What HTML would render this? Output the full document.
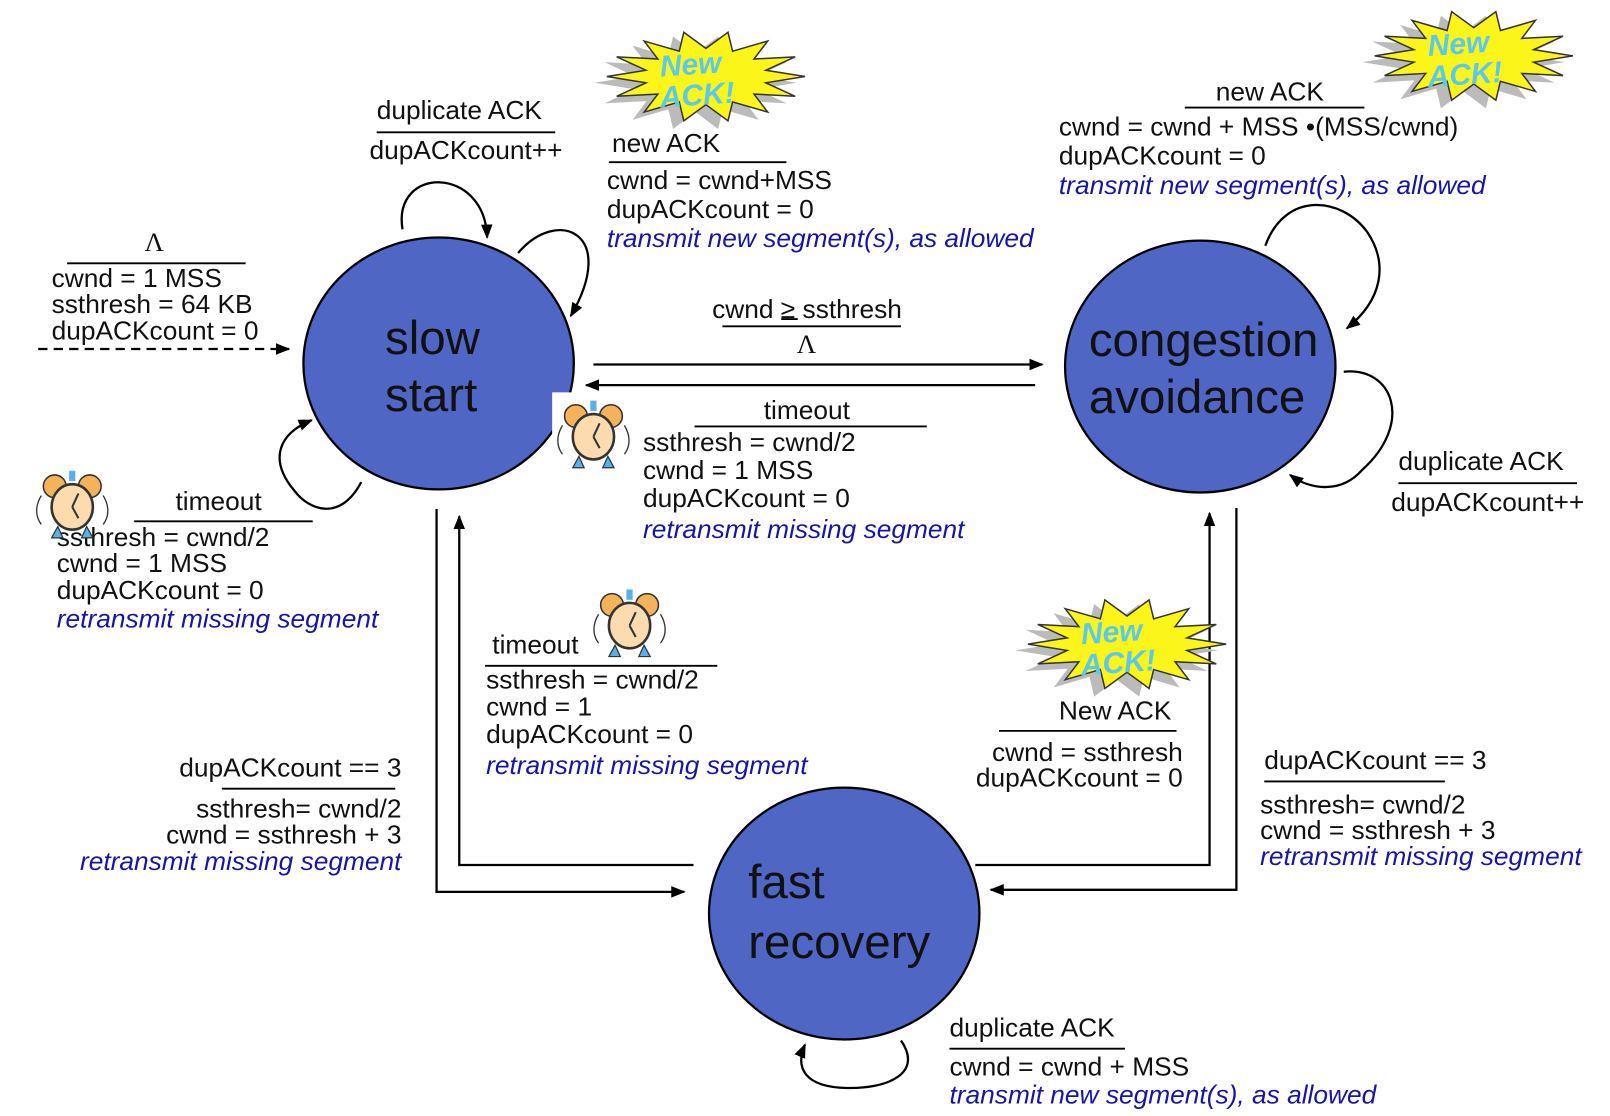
<!DOCTYPE html>
<html><head><meta charset="utf-8"><style>
html,body{margin:0;padding:0;background:#fff}
svg{display:block}
text{font-family:"Liberation Sans",sans-serif;font-size:25.5px;fill:#111}
.b{fill:#1616a0;font-style:italic}
.st{font-size:46px}
.na{fill:#5cc8f0;font-style:italic;font-size:29px;font-weight:bold}
.lam{font-family:"Liberation Serif",serif;font-size:26px}
</style></head><body>
<svg width="1610" height="1116" viewBox="0 0 1560 1081" xmlns="http://www.w3.org/2000/svg">
<defs>
<marker id="a" viewBox="0 0 10 10" refX="9" refY="5" markerWidth="14" markerHeight="14" orient="auto" markerUnits="userSpaceOnUse"><path d="M0,1 L10,5 L0,9 z" fill="#000"/></marker>
</defs>
<g stroke="#000" stroke-width="2.2" fill="none">
<ellipse cx="425" cy="352" rx="131" ry="122" fill="#4f66c4"/>
<ellipse cx="1163" cy="355" rx="131" ry="122" fill="#4f66c4"/>
<ellipse cx="818" cy="885" rx="131" ry="122" fill="#4f66c4"/>
<path d="M390,222 C380,160 470,160 472,230" marker-end="url(#a)"/>
<path d="M502,245 C540,200 600,225 553,306" marker-end="url(#a)"/>
<path d="M350,467 C330,505 300,495 285,475 C260,445 270,420 302,407" marker-end="url(#a)"/>
<path d="M37,338 L280,338" stroke-dasharray="9,6" marker-end="url(#a)"/>
<path d="M575,353 L1010,353" marker-end="url(#a)"/>
<path d="M1003,373 L568,373" marker-end="url(#a)"/>
<path d="M1226,238 C1245,185 1300,190 1325,225 C1345,255 1340,290 1305,318" marker-end="url(#a)"/>
<path d="M1302,360 C1350,355 1370,410 1320,455 C1300,478 1270,475 1250,460" marker-end="url(#a)"/>
<path d="M423,493 L423,864 L663,864" marker-end="url(#a)"/>
<path d="M672,838 L445,838 L445,500" marker-end="url(#a)"/>
<path d="M945,838 L1172,838 L1172,497" marker-end="url(#a)"/>
<path d="M1198,492 L1198,862 L960,862" marker-end="url(#a)"/>
<path d="M873,1008 C895,1040 860,1055 820,1054 C780,1053 770,1035 780,1012" marker-end="url(#a)"/>
<g stroke-width="1.8">
<line x1="365" y1="128" x2="538" y2="128"/>
<line x1="590" y1="157" x2="762" y2="157"/>
<line x1="65" y1="255" x2="238" y2="255"/>
<line x1="700" y1="316" x2="873" y2="316"/>
<line x1="673" y1="413" x2="898" y2="413"/>
<line x1="130" y1="505" x2="303" y2="505"/>
<line x1="470" y1="645" x2="695" y2="645"/>
<line x1="215" y1="764" x2="383" y2="764"/>
<line x1="968" y1="708" x2="1140" y2="708"/>
<line x1="1225" y1="757" x2="1400" y2="757"/>
<line x1="1148" y1="104" x2="1322" y2="104"/>
<line x1="1355" y1="468" x2="1528" y2="468"/>
<line x1="920" y1="1016" x2="1090" y2="1016"/>
<line x1="757" y1="309" x2="773" y2="309"/>
</g>
</g>

<text class="st" x="373" y="343">slow</text>
<text class="st" x="373" y="398">start</text>
<text class="st" x="1055" y="345">congestion</text>
<text class="st" x="1055" y="400">avoidance</text>
<text class="st" x="725" y="870">fast</text>
<text class="st" x="725" y="928">recovery</text>

<text x="365" y="115">duplicate ACK</text>
<text x="358" y="154">dupACKcount++</text>
<text x="593" y="147">new ACK</text>
<text x="588" y="183">cwnd = cwnd+MSS</text>
<text x="588" y="211">dupACKcount = 0</text>
<text class="b" x="588" y="239">transmit new segment(s), as allowed</text>
<text class="lam" x="140" y="243">Λ</text>
<text x="50" y="278">cwnd = 1 MSS</text>
<text x="50" y="303">ssthresh = 64 KB</text>
<text x="50" y="329">dupACKcount = 0</text>
<text x="690" y="308">cwnd ≥ ssthresh</text>
<text class="lam" x="772" y="342">Λ</text>
<text x="740" y="406">timeout</text>
<text x="623" y="437">ssthresh = cwnd/2</text>
<text x="623" y="464">cwnd = 1 MSS</text>
<text x="623" y="491">dupACKcount = 0</text>
<text class="b" x="623" y="521">retransmit missing segment</text>
<text x="170" y="494">timeout</text>
<text x="55" y="529">ssthresh = cwnd/2</text>
<text x="55" y="554">cwnd = 1 MSS</text>
<text x="55" y="580">dupACKcount = 0</text>
<text class="b" x="55" y="608">retransmit missing segment</text>
<text x="477" y="633">timeout</text>
<text x="471" y="667">ssthresh = cwnd/2</text>
<text x="471" y="693">cwnd = 1</text>
<text x="471" y="720">dupACKcount = 0</text>
<text class="b" x="471" y="750">retransmit missing segment</text>
<g text-anchor="end">
<text x="389" y="752">dupACKcount == 3</text>
<text x="389" y="792">ssthresh= cwnd/2</text>
<text x="389" y="817">cwnd = ssthresh + 3</text>
<text class="b" x="389" y="843">retransmit missing segment</text>
<text x="1146" y="737">cwnd = ssthresh</text>
<text x="1146" y="762">dupACKcount = 0</text>
</g>
<text x="1026" y="697">New ACK</text>
<text x="1225" y="745">dupACKcount == 3</text>
<text x="1221" y="788">ssthresh= cwnd/2</text>
<text x="1221" y="813">cwnd = ssthresh + 3</text>
<text class="b" x="1221" y="838">retransmit missing segment</text>
<text x="1178" y="97">new ACK</text>
<text x="1026" y="131">cwnd = cwnd + MSS  •(MSS/cwnd)</text>
<text x="1026" y="159">dupACKcount = 0</text>
<text class="b" x="1026" y="188">transmit new segment(s), as allowed</text>
<text x="1355" y="455">duplicate ACK</text>
<text x="1348" y="495">dupACKcount++</text>
<text x="920" y="1004">duplicate ACK</text>
<text x="920" y="1042">cwnd = cwnd + MSS</text>
<text class="b" x="920" y="1069">transmit new segment(s), as allowed</text>

<g>
<polygon transform="translate(674,80) scale(98,46)" fill="#bbb" points="1,0 0.604,0.138 0.901,0.434 0.485,0.386 0.623,0.782 0.269,0.559 0.223,0.975 0,0.62 -0.223,0.975 -0.269,0.559 -0.623,0.782 -0.485,0.386 -0.901,0.434 -0.604,0.138 -1,0 -0.604,-0.138 -0.901,-0.434 -0.485,-0.386 -0.623,-0.782 -0.269,-0.559 -0.223,-0.975 0,-0.62 0.223,-0.975 0.269,-0.559 0.623,-0.782 0.485,-0.386 0.901,-0.434 0.604,-0.138"/>
<polygon transform="translate(684,74) scale(96,44)" fill="#fbf51a" stroke="#333" stroke-width="1.5" vector-effect="non-scaling-stroke" points="1,0 0.604,0.138 0.901,0.434 0.485,0.386 0.623,0.782 0.269,0.559 0.223,0.975 0,0.62 -0.223,0.975 -0.269,0.559 -0.623,0.782 -0.485,0.386 -0.901,0.434 -0.604,0.138 -1,0 -0.604,-0.138 -0.901,-0.434 -0.485,-0.386 -0.623,-0.782 -0.269,-0.559 -0.223,-0.975 0,-0.62 0.223,-0.975 0.269,-0.559 0.623,-0.782 0.485,-0.386 0.901,-0.434 0.604,-0.138"/>
<text class="na" x="640" y="72" transform="rotate(-4 670 72)">New</text>
<text class="na" x="640" y="102" transform="rotate(-4 670 102)">ACK!</text>
</g>
<g transform="translate(744,-20)">
<polygon transform="translate(674,80) scale(98,46)" fill="#bbb" points="1,0 0.604,0.138 0.901,0.434 0.485,0.386 0.623,0.782 0.269,0.559 0.223,0.975 0,0.62 -0.223,0.975 -0.269,0.559 -0.623,0.782 -0.485,0.386 -0.901,0.434 -0.604,0.138 -1,0 -0.604,-0.138 -0.901,-0.434 -0.485,-0.386 -0.623,-0.782 -0.269,-0.559 -0.223,-0.975 0,-0.62 0.223,-0.975 0.269,-0.559 0.623,-0.782 0.485,-0.386 0.901,-0.434 0.604,-0.138"/>
<polygon transform="translate(684,74) scale(96,44)" fill="#fbf51a" stroke="#333" stroke-width="1.5" vector-effect="non-scaling-stroke" points="1,0 0.604,0.138 0.901,0.434 0.485,0.386 0.623,0.782 0.269,0.559 0.223,0.975 0,0.62 -0.223,0.975 -0.269,0.559 -0.623,0.782 -0.485,0.386 -0.901,0.434 -0.604,0.138 -1,0 -0.604,-0.138 -0.901,-0.434 -0.485,-0.386 -0.623,-0.782 -0.269,-0.559 -0.223,-0.975 0,-0.62 0.223,-0.975 0.269,-0.559 0.623,-0.782 0.485,-0.386 0.901,-0.434 0.604,-0.138"/>
<text class="na" x="640" y="72" transform="rotate(-4 670 72)">New</text>
<text class="na" x="640" y="102" transform="rotate(-4 670 102)">ACK!</text>
</g>
<g transform="translate(408,550)">
<polygon transform="translate(674,80) scale(98,46)" fill="#bbb" points="1,0 0.604,0.138 0.901,0.434 0.485,0.386 0.623,0.782 0.269,0.559 0.223,0.975 0,0.62 -0.223,0.975 -0.269,0.559 -0.623,0.782 -0.485,0.386 -0.901,0.434 -0.604,0.138 -1,0 -0.604,-0.138 -0.901,-0.434 -0.485,-0.386 -0.623,-0.782 -0.269,-0.559 -0.223,-0.975 0,-0.62 0.223,-0.975 0.269,-0.559 0.623,-0.782 0.485,-0.386 0.901,-0.434 0.604,-0.138"/>
<polygon transform="translate(684,74) scale(96,44)" fill="#fbf51a" stroke="#333" stroke-width="1.5" vector-effect="non-scaling-stroke" points="1,0 0.604,0.138 0.901,0.434 0.485,0.386 0.623,0.782 0.269,0.559 0.223,0.975 0,0.62 -0.223,0.975 -0.269,0.559 -0.623,0.782 -0.485,0.386 -0.901,0.434 -0.604,0.138 -1,0 -0.604,-0.138 -0.901,-0.434 -0.485,-0.386 -0.623,-0.782 -0.269,-0.559 -0.223,-0.975 0,-0.62 0.223,-0.975 0.269,-0.559 0.623,-0.782 0.485,-0.386 0.901,-0.434 0.604,-0.138"/>
<text class="na" x="640" y="72" transform="rotate(-4 670 72)">New</text>
<text class="na" x="640" y="102" transform="rotate(-4 670 102)">ACK!</text>
</g>

<g transform="translate(575,420)">
<rect x="-40" y="-40" width="80" height="80" fill="#fff"/>
<circle cx="-17" cy="-17" r="11" fill="#f4b35a" stroke="#333" stroke-width="1.5"/>
<circle cx="17" cy="-17" r="11" fill="#f4b35a" stroke="#333" stroke-width="1.5"/>
<path d="M-14,22 L-20,33 L-9,33 Z M14,22 L20,33 L9,33 Z" fill="#5ab0e8" stroke="#333" stroke-width="1.2"/>
<ellipse cx="0" cy="3" rx="20" ry="22" fill="#fcdcae" stroke="#333" stroke-width="2.5"/>
<path d="M0,3 L6,-10 M0,3 L6,14" stroke="#333" stroke-width="2" fill="none"/>
<path d="M-30,-8 C-36,2 -36,12 -30,20 M30,-8 C36,2 36,12 30,20" stroke="#333" stroke-width="1.3" fill="none"/>
<rect x="-3" y="-32" width="6" height="10" fill="#5ab0e8"/>
</g>
<g transform="translate(70,488)">
<circle cx="-17" cy="-17" r="11" fill="#f4b35a" stroke="#333" stroke-width="1.5"/>
<circle cx="17" cy="-17" r="11" fill="#f4b35a" stroke="#333" stroke-width="1.5"/>
<path d="M-14,22 L-20,33 L-9,33 Z M14,22 L20,33 L9,33 Z" fill="#5ab0e8" stroke="#333" stroke-width="1.2"/>
<ellipse cx="0" cy="3" rx="20" ry="22" fill="#fcdcae" stroke="#333" stroke-width="2.5"/>
<path d="M0,3 L6,-10 M0,3 L6,14" stroke="#333" stroke-width="2" fill="none"/>
<path d="M-30,-8 C-36,2 -36,12 -30,20 M30,-8 C36,2 36,12 30,20" stroke="#333" stroke-width="1.3" fill="none"/>
<rect x="-3" y="-32" width="6" height="10" fill="#5ab0e8"/>
</g>
<g transform="translate(610,603)">
<circle cx="-17" cy="-17" r="11" fill="#f4b35a" stroke="#333" stroke-width="1.5"/>
<circle cx="17" cy="-17" r="11" fill="#f4b35a" stroke="#333" stroke-width="1.5"/>
<path d="M-14,22 L-20,33 L-9,33 Z M14,22 L20,33 L9,33 Z" fill="#5ab0e8" stroke="#333" stroke-width="1.2"/>
<ellipse cx="0" cy="3" rx="20" ry="22" fill="#fcdcae" stroke="#333" stroke-width="2.5"/>
<path d="M0,3 L6,-10 M0,3 L6,14" stroke="#333" stroke-width="2" fill="none"/>
<path d="M-30,-8 C-36,2 -36,12 -30,20 M30,-8 C36,2 36,12 30,20" stroke="#333" stroke-width="1.3" fill="none"/>
<rect x="-3" y="-32" width="6" height="10" fill="#5ab0e8"/>
</g>
</svg>
</body></html>
